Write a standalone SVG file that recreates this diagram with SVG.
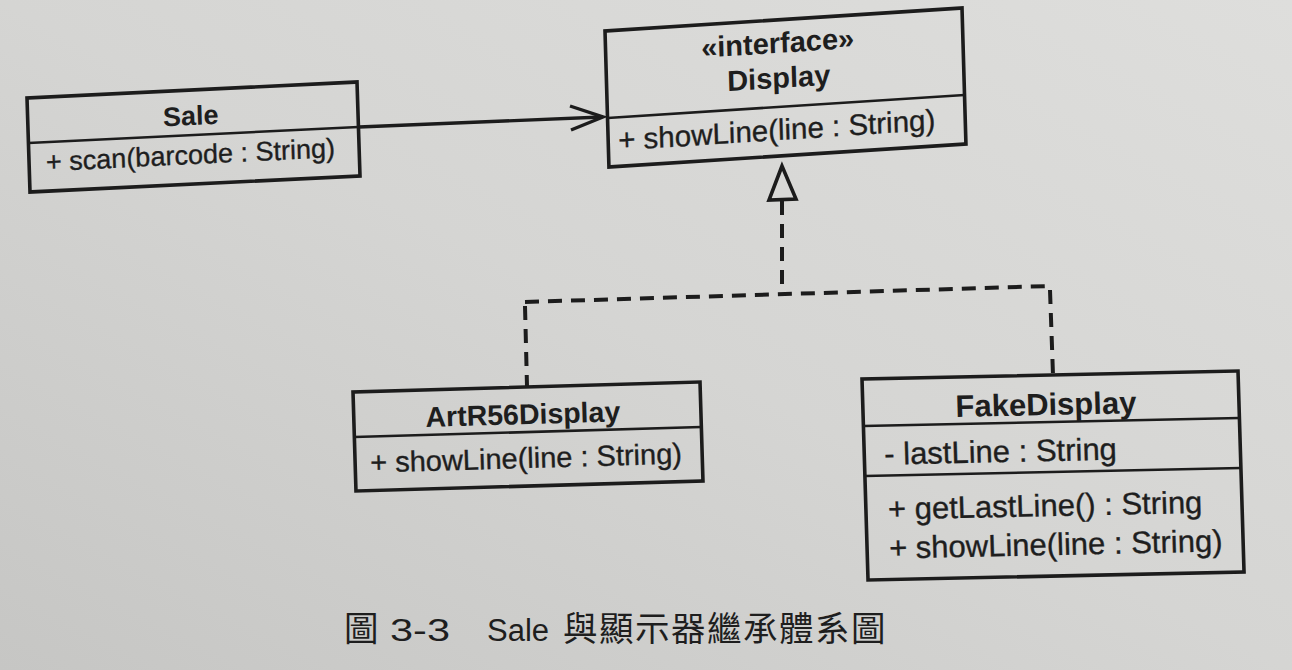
<svg xmlns="http://www.w3.org/2000/svg" width="1292" height="670" viewBox="0 0 1292 670">
  <defs>
    <linearGradient id="paper" x1="1" y1="0" x2="0" y2="1">
      <stop offset="0" stop-color="#dededc"/>
      <stop offset="0.5" stop-color="#d5d5d3"/>
      <stop offset="1" stop-color="#c6c6c4"/>
    </linearGradient>
    <style>
      .box { fill: none; stroke: #1c1c1c; stroke-width: 3.6; stroke-linejoin: miter; }
      .sep { stroke: #1c1c1c; stroke-width: 2.6; }
      .name { font-family: "Liberation Sans", Arial, sans-serif; font-weight: bold; fill: #1e1e1e; text-anchor: middle; }
      .member { font-family: "Liberation Sans", Arial, sans-serif; fill: #1e1e1e; stroke: #1e1e1e; stroke-width: 0.35; }
      .edge { fill: none; stroke: #1c1c1c; stroke-width: 3.4; }
      .dash { fill: none; stroke: #1c1c1c; stroke-width: 4; stroke-dasharray: 14 9; }
      .caption { font-family: "Liberation Sans", "Noto Sans CJK TC", sans-serif; fill: #1e1e1e; font-size: 31px; }
      .cjk { font-family: "Noto Sans CJK TC", sans-serif; fill: #1e1e1e; font-size: 34.5px; }
    </style>
  </defs>

  <rect x="0" y="0" width="1292" height="670" fill="url(#paper)"/>

  <!-- class Sale -->
  <g id="sale" transform="matrix(1 -0.0485 0.032 1 27 98)">
    <rect class="box" x="0" y="0" width="330" height="94"/>
    <line class="sep" x1="0" y1="45" x2="330" y2="45"/>
    <text class="name" x="163" y="35" font-size="27">Sale</text>
    <text class="member" x="17" y="74" font-size="27">+ scan(barcode : String)</text>
  </g>

  <!-- interface Display -->
  <g id="display" transform="matrix(1 -0.0644 0.029 1 605 31)">
    <rect class="box" x="0" y="0" width="357" height="136"/>
    <line class="sep" x1="0" y1="87" x2="357" y2="87"/>
    <text class="name" x="172" y="33" font-size="29">«interface»</text>
    <text class="name" x="172" y="68" font-size="29">Display</text>
    <text class="member" x="10" y="120" font-size="29.5">+ showLine(line : String)</text>
  </g>

  <!-- class ArtR56Display -->
  <g id="artr56display" transform="matrix(1 -0.0288 0.03 1 353 392)">
    <rect class="box" x="0" y="0" width="347" height="99"/>
    <line class="sep" x1="0" y1="45" x2="347" y2="45"/>
    <text class="name" x="169" y="37" font-size="28.5">ArtR56Display</text>
    <text class="member" x="15" y="81" font-size="29">+ showLine(line : String)</text>
  </g>

  <!-- class FakeDisplay -->
  <g id="fakedisplay" transform="matrix(1 -0.0213 0.03 1 862 379)">
    <rect class="box" x="0" y="0" width="376" height="201"/>
    <line class="sep" x1="0" y1="47" x2="376" y2="47"/>
    <line class="sep" x1="0" y1="97" x2="376" y2="97"/>
    <text class="name" x="183" y="40" font-size="31">FakeDisplay</text>
    <text class="member" x="20" y="86" font-size="31">- lastLine : String</text>
    <text class="member" x="22" y="141" font-size="31">+ getLastLine() : String</text>
    <text class="member" x="22" y="180" font-size="31">+ showLine(line : String)</text>
  </g>

  <!-- connectors -->
  <g id="connectors">
    <!-- Sale uses Display -->
    <line class="edge" x1="359" y1="127" x2="602" y2="117"/>
    <polyline class="edge" points="570,106 603,117 571,130"/>
    <!-- realization of Display -->
    <polygon points="782,166 769,200 796,199" fill="#d9d9d7" stroke="#1c1c1c" stroke-width="3.6" stroke-linejoin="miter"/>
    <line class="dash" x1="782" y1="201" x2="782" y2="294"/>
    <line class="dash" x1="525" y1="302" x2="1050" y2="286"/>
    <line class="dash" x1="525" y1="306" x2="527" y2="386"/>
    <line class="dash" x1="1050" y1="290" x2="1053" y2="375"/>
  </g>

  <!-- figure caption -->
  <g id="caption">
    <text class="cjk" x="344" y="641">圖</text>
    <text class="caption" x="390" y="641" textLength="60" lengthAdjust="spacingAndGlyphs">3-3</text>
    <text class="caption" x="487" y="641">Sale</text>
    <text class="cjk" x="563" y="641" letter-spacing="1.5">與顯示器繼承體系圖</text>
  </g>
</svg>
